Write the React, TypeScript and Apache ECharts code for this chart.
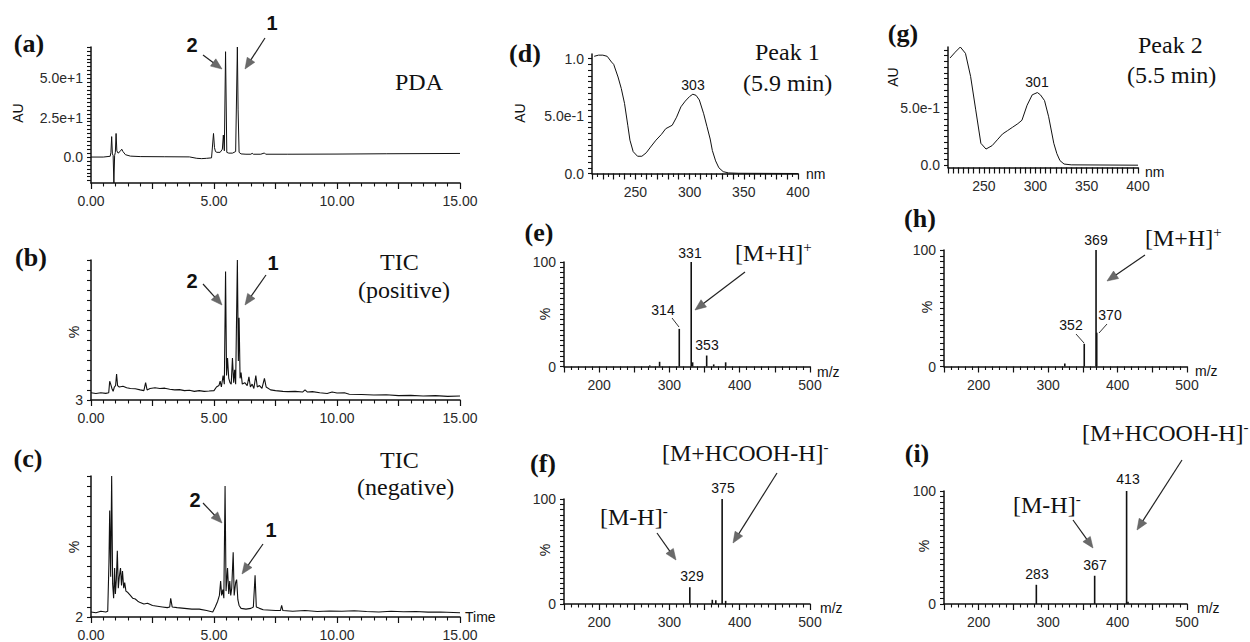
import React, { useEffect, useRef } from "react";
import * as echarts from "echarts";

// ---------- (a) PDA chromatogram ----------
const pdaTime = [0, 0.5, 0.78, 0.81, 0.84, 0.87, 0.9, 0.93, 0.96, 0.99, 1.02, 1.05, 1.1, 1.18, 1.25, 1.3, 1.4, 1.6, 2.0, 3.0, 4.0, 4.3, 4.5, 4.7, 4.9, 4.98, 5.02, 5.06, 5.12, 5.25, 5.34, 5.38, 5.42, 5.47, 5.52, 5.6, 5.75, 5.88, 5.95, 5.98, 6.02, 6.1, 6.3, 6.5, 6.55, 6.6, 6.9, 7.05, 7.1, 8, 10, 12, 15];
const pdaAU = [0, 0, 0.5, 3, 13, 2, 1, -16.5, 1, 3, 15, 4, 2.5, 3.5, 5, 3.5, 1.5, 0.6, 0.3, 0.2, 0.1, -0.8, -1, -0.8, -0.5, 15, 6, 3.5, 3, 3, 5, 14, 4, 67, 3, 2.5, 2.5, 3.5, 70, 30, 3, 2, 1.8, 1.8, 2.4, 1.8, 1.8, 2.6, 1.8, 1.8, 1.9, 2.1, 2.3];

// ---------- (b) TIC positive ----------
const ticPosTime = [0, 0.2, 0.4, 0.6, 0.72, 0.76, 0.8, 0.85, 0.9, 0.95, 1.0, 1.04, 1.08, 1.15, 1.3, 1.45, 1.6, 1.8, 2.0, 2.15, 2.22, 2.28, 2.4, 2.6, 2.8, 3.0, 3.2, 3.4, 3.6, 3.8, 4.0, 4.2, 4.4, 4.6, 4.8, 5.0, 5.1, 5.2, 5.25, 5.3, 5.37, 5.42, 5.47, 5.51, 5.55, 5.6, 5.65, 5.7, 5.75, 5.8, 5.84, 5.88, 5.95, 5.99, 6.02, 6.06, 6.1, 6.15, 6.25, 6.35, 6.42, 6.48, 6.55, 6.62, 6.7, 6.76, 6.85, 6.95, 7.05, 7.12, 7.3, 7.5, 7.8, 8.0, 8.3, 8.6, 8.7, 8.8, 9.0, 9.3, 9.6, 9.8, 10.0, 10.3, 10.5, 11, 11.5, 12, 12.5, 13, 13.5, 14, 14.5, 15];
const ticPosPct = [8, 7.5, 8, 7.6, 8, 16, 14, 11, 9, 12, 13, 21, 13, 12, 12.5, 11.5, 11, 10.8, 10, 9.5, 15, 10, 11, 11.5, 11, 11.2, 10.5, 10, 10.2, 9.5, 9.8, 9, 9.5, 9, 9.2, 9.5, 12, 13, 16, 12, 20, 14, 92, 20, 32, 18, 15, 14, 32, 15, 24, 14, 100, 30, 60, 18, 22, 14, 15, 13, 19, 12, 14, 11, 20, 12, 13, 11, 18, 12, 10, 9.5, 9, 8.8, 9, 8.5, 10, 8.5, 8.8, 8, 7.5, 8.5, 7.8, 8, 7, 6.8, 6.5, 6.6, 6, 6.2, 5.8, 6, 5.5, 5.8];

// ---------- (c) TIC negative ----------
const ticNegTime = [0, 0.2, 0.4, 0.6, 0.68, 0.73, 0.76, 0.8, 0.84, 0.88, 0.92, 0.96, 0.99, 1.03, 1.07, 1.11, 1.15, 1.2, 1.24, 1.28, 1.33, 1.37, 1.42, 1.5, 1.6, 1.7, 1.8, 1.9, 2.0, 2.15, 2.3, 2.5, 2.7, 2.9, 3.1, 3.2, 3.24, 3.3, 3.5, 3.8, 4.1, 4.4, 4.7, 4.95, 5.05, 5.15, 5.22, 5.27, 5.31, 5.36, 5.4, 5.45, 5.49, 5.55, 5.6, 5.64, 5.68, 5.72, 5.78, 5.82, 5.88, 5.92, 5.97, 6.02, 6.1, 6.3, 6.5, 6.6, 6.67, 6.72, 6.85, 7.0, 7.5, 7.7, 7.75, 7.8, 8.2, 8.7, 9.2, 9.7, 10.2, 10.7, 11.2, 11.7, 12.2, 12.7, 13.2, 13.7, 14.2, 15];
const ticNegPct = [5.5, 5, 6, 5.5, 6, 40, 76, 30, 100, 25, 15, 36, 18, 28, 48, 22, 30, 36, 24, 34, 22, 26, 20, 19, 17, 15, 14.5, 13, 12, 11, 11.5, 10, 9.5, 9, 8.5, 9, 15, 9, 8.5, 8, 7.5, 7.5, 6.5, 5.5, 9, 13, 17, 27, 17, 21, 15, 93, 20, 36, 18, 27, 17, 22, 47, 17, 26, 28, 14, 10, 8, 7.5, 8, 9, 31, 9, 8, 7, 6.5, 6.5, 10, 6.5, 6, 6.5, 5.8, 6.2, 6, 6.3, 5.8, 5.5, 6, 5.6, 5.8, 5.4, 5.5, 5];

// ---------- (d) UV spectrum, peak 1 ----------
const uvNm1 = [212, 216, 220, 224, 228, 230, 234, 237, 240, 243, 245, 248, 252, 256, 260, 264, 269, 274, 278, 284, 288, 292, 296, 300, 303, 306, 309, 313, 316, 319, 321, 324, 327, 331, 336, 345, 400];
const uvAU1 = [1.02, 1.03, 1.03, 1.02, 0.97, 0.95, 0.84, 0.74, 0.61, 0.42, 0.29, 0.19, 0.15, 0.15, 0.18, 0.23, 0.29, 0.34, 0.39, 0.42, 0.49, 0.58, 0.63, 0.67, 0.69, 0.68, 0.64, 0.52, 0.41, 0.3, 0.2, 0.11, 0.05, 0.016, 0.005, 0.002, 0];

// ---------- (g) UV spectrum, peak 2 ----------
const uvNm2 = [217, 222, 227, 232, 237, 242, 247, 252, 258, 263, 268, 273, 278, 283, 287, 292, 297, 302, 305, 309, 313, 318, 321, 324, 328, 335, 400];
const uvAU2 = [0.93, 0.98, 1.025, 0.97, 0.77, 0.48, 0.19, 0.14, 0.17, 0.22, 0.27, 0.3, 0.33, 0.36, 0.39, 0.52, 0.61, 0.63, 0.61, 0.56, 0.42, 0.19, 0.1, 0.04, 0.01, 0.003, 0];

// ---------- mass spectra ----------
const msE_mz = [272, 286, 314, 331, 333, 353, 363, 380];
const msE_int = [1, 4.5, 36, 100, 4, 10.5, 2, 4];
const msF_mz = [329, 361, 366, 375, 380];
const msF_int = [16, 4, 3.5, 100, 3];
const msH_mz = [324, 352, 369, 370];
const msH_int = [2.5, 19.5, 100, 29];
const msI_mz = [283, 367, 413, 415];
const msI_int = [17, 25, 100, 2];

// ---------- tick label values ----------
const timeLabels = [0, 5, 10, 15];
const pdaLabels = [0, 25, 50];
const uvLabels1 = [0, 0.5, 1.0];
const uvLabels2 = [0, 0.5];
const mzLabels = [200, 300, 400, 500];

const INK = "#111111";
const SERIF = '"Liberation Serif", "Times New Roman", serif';
const SANS = '"Liberation Sans", Arial, sans-serif';

function zip(xs: number[], ys: number[]) {
  return xs.map((x, i) => [x, ys[i]]);
}
function steps(a: number, b: number, n: number) {
  const out: number[] = [];
  for (let k = 0; k <= n; k++) out.push(a + ((b - a) * k) / n);
  return out;
}

const labelStyle = { fontFamily: SANS, fontSize: 14, color: "#2a2a2a" };

function xAx(min: number, max: number, interval: number, minorSplit: number, fmt: (v: number) => string) {
  return {
    type: "value",
    min,
    max,
    interval,
    axisLine: { show: true, onZero: false, lineStyle: { color: INK, width: 1.5 } },
    axisTick: { show: true, length: 6, lineStyle: { color: INK, width: 1.2 } },
    minorTick: { show: minorSplit > 0, splitNumber: minorSplit || 2, length: 3.5, lineStyle: { color: INK, width: 1.1 } },
    splitLine: { show: false },
    minorSplitLine: { show: false },
    axisLabel: { ...labelStyle, margin: 11, formatter: fmt, showMinLabel: true, showMaxLabel: true, hideOverlap: false },
  };
}

function yAx(min: number, max: number, ticks: number[], labels: number[], fmt: (v: number) => string) {
  return {
    type: "value",
    min,
    max,
    axisLine: { show: true, onZero: false, lineStyle: { color: INK, width: 1.5 } },
    axisTick: { show: true, length: 4, customValues: ticks, lineStyle: { color: INK, width: 1.1 } },
    axisLabel: { ...labelStyle, margin: 8, customValues: labels, formatter: fmt },
    splitLine: { show: false },
  };
}

const timeFmt = (v: number) => (timeLabels.indexOf(v) >= 0 ? v.toFixed(2) : "");
const mzFmt = (v: number) => (mzLabels.indexOf(v) >= 0 ? String(v) : "");
const nmFmt = (v: number) => (v % 50 === 0 ? String(v) : "");
const pdaFmt = (v: number) => (v === 0 ? "0.0" : v === 25 ? "2.5e+1" : "5.0e+1");
const uvFmt = (v: number) => (v === 0 ? "0.0" : v === 0.5 ? "5.0e-1" : "1.0");
const plainFmt = (v: number) => String(v);

const lineSeries = (data: number[][], width = 1) => ({
  type: "line",
  data,
  symbol: "none",
  silent: true,
  lineStyle: { color: INK, width },
});
const barSeries = (data: number[][]) => ({
  type: "bar",
  data,
  barWidth: 1.6,
  silent: true,
  itemStyle: { color: INK },
});

// one chart instance per panel, stacked on the same page
function panelOptions(): any[] {
  const msX = () => xAx(150, 500, 50, 5, mzFmt);
  const msY = () => yAx(0, 100, steps(0, 100, 20), [0, 100], plainFmt);
  const panels = [
    { grid: { left: 91, top: 47, width: 369, height: 136 }, x: xAx(0, 15, 2.5, 5, timeFmt), y: yAx(-16.5, 70, steps(-15, 70, 34), pdaLabels, pdaFmt), s: lineSeries(zip(pdaTime, pdaAU)) },
    { grid: { left: 91, top: 260, width: 369, height: 140 }, x: xAx(0, 15, 2.5, 5, timeFmt), y: yAx(3, 100, steps(3, 100, 14), [3], plainFmt), s: lineSeries(zip(ticPosTime, ticPosPct), 1.1) },
    { grid: { left: 91, top: 476, width: 369, height: 141 }, x: xAx(0, 15, 2.5, 5, timeFmt), y: yAx(2, 100, steps(2, 100, 14), [2], plainFmt), s: lineSeries(zip(ticNegTime, ticNegPct), 1.1) },
    { grid: { left: 592, top: 54, width: 206, height: 119.5 }, x: xAx(210, 400, 10, 2, nmFmt), y: yAx(0, 1.04, steps(0, 1, 20), uvLabels1, uvFmt), s: lineSeries(zip(uvNm1, uvAU1)) },
    { grid: { left: 948, top: 47, width: 190, height: 120.5 }, x: xAx(215, 400, 5, 0, nmFmt), y: yAx(-0.02, 1.025, steps(0, 1, 20), uvLabels2, uvFmt), s: lineSeries(zip(uvNm2, uvAU2)) },
    { grid: { left: 564, top: 262, width: 246, height: 104.5 }, x: msX(), y: msY(), s: barSeries(zip(msE_mz, msE_int)) },
    { grid: { left: 564, top: 499, width: 246, height: 105 }, x: msX(), y: msY(), s: barSeries(zip(msF_mz, msF_int)) },
    { grid: { left: 944, top: 250, width: 243, height: 116.5 }, x: msX(), y: msY(), s: barSeries(zip(msH_mz, msH_int)) },
    { grid: { left: 944, top: 491, width: 243, height: 113 }, x: msX(), y: msY(), s: barSeries(zip(msI_mz, msI_int)) },
  ];
  return panels.map((p) => ({ animation: false, grid: [p.grid], xAxis: [p.x], yAxis: [p.y], series: [p.s] }));
}

function T(x: number, y: number, text: string, font: string, align = "center", rotation = 0) {
  return {
    type: "text",
    x,
    y,
    rotation,
    silent: true,
    style: { text, font, fill: INK, textAlign: align, align, textVerticalAlign: "middle", verticalAlign: "middle" },
  };
}

function ion(x: number, y: number, main: string, sup: string) {
  return {
    type: "text",
    x,
    y,
    silent: true,
    style: {
      text: `{m|${main}}{s|${sup}}`,
      fill: INK,
      textAlign: "left",
      align: "left",
      textVerticalAlign: "middle",
      verticalAlign: "middle",
      rich: {
        m: { fontFamily: SERIF, fontSize: 24, lineHeight: 28, fill: INK },
        s: { fontFamily: SERIF, fontSize: 15, lineHeight: 14, verticalAlign: "top", fill: INK },
      },
    },
  };
}

function arrow(x1: number, y1: number, x2: number, y2: number) {
  const dx = x2 - x1;
  const dy = y2 - y1;
  const L = Math.hypot(dx, dy);
  const ux = dx / L;
  const uy = dy / L;
  const head = 11;
  const half = 4.5;
  const bx = x2 - ux * head;
  const by = y2 - uy * head;
  return [
    { type: "line", silent: true, shape: { x1, y1, x2: bx + ux * 2, y2: by + uy * 2 }, style: { stroke: "#222", lineWidth: 1.2 } },
    {
      type: "polygon",
      silent: true,
      shape: { points: [[x2, y2], [bx - uy * half, by + ux * half], [bx + uy * half, by - ux * half]] },
      style: { fill: "#6a6a6a", stroke: "#555", lineWidth: 0.5 },
    },
  ];
}

function leader(x1: number, y1: number, x2: number, y2: number) {
  return { type: "line", silent: true, shape: { x1, y1, x2, y2 }, style: { stroke: "#333", lineWidth: 1 } };
}

function buildNotes(): any {
  const bold = `bold 26px ${SERIF}`;
  const serif = `24px ${SERIF}`;
  const num = `bold 20px ${SANS}`;
  const small = `14px ${SANS}`;
  const elements: any[] = [
    T(29, 43, "(a)", bold),
    T(31, 257, "(b)", bold),
    T(28, 458, "(c)", bold),
    T(525, 53, "(d)", bold),
    T(539, 232, "(e)", bold),
    T(543, 463, "(f)", bold),
    T(903, 33, "(g)", bold),
    T(920, 218, "(h)", bold),
    T(917, 453, "(i)", bold),
    T(395, 82, "PDA", serif, "left"),
    T(380, 262, "TIC", serif, "left"),
    T(358, 290, "(positive)", serif, "left"),
    T(380, 460, "TIC", serif, "left"),
    T(357, 487, "(negative)", serif, "left"),
    T(755, 52, "Peak 1", serif, "left"),
    T(743, 83, "(5.9 min)", serif, "left"),
    T(1138, 45, "Peak 2", serif, "left"),
    T(1127, 75, "(5.5 min)", serif, "left"),
    T(192, 45, "2", num),
    T(272, 23, "1", num),
    ...arrow(203, 55, 222, 69),
    ...arrow(265, 38, 245, 69),
    T(192, 281, "2", num),
    T(273, 263, "1", num),
    ...arrow(203, 284, 222, 305),
    ...arrow(266, 275, 245, 305),
    T(195, 500, "2", num),
    T(271, 530, "1", num),
    ...arrow(203, 503, 222, 523),
    ...arrow(263, 544, 242, 574),
    T(18, 113, "AU", small, "center", Math.PI / 2),
    T(520, 113, "AU", small, "center", Math.PI / 2),
    T(893, 77, "AU", small, "center", Math.PI / 2),
    T(74, 332, "%", small, "center", Math.PI / 2),
    T(74, 547, "%", small, "center", Math.PI / 2),
    T(545, 314, "%", small, "center", Math.PI / 2),
    T(545, 550, "%", small, "center", Math.PI / 2),
    T(927, 307, "%", small, "center", Math.PI / 2),
    T(924, 546, "%", small, "center", Math.PI / 2),
    T(806, 174, "nm", small, "left"),
    T(1145, 172, "nm", small, "left"),
    T(817, 372, "m/z", small, "left"),
    T(1195, 371, "m/z", small, "left"),
    T(820, 608, "m/z", small, "left"),
    T(1197, 608, "m/z", small, "left"),
    T(465, 617, "Time", small, "left"),
    T(693, 85, "303", small),
    T(1037, 82, "301", small),
    T(690, 253, "331", small),
    T(663, 310, "314", small),
    leader(672, 318, 679, 327),
    T(707, 345, "353", small),
    ion(735, 253, "[M+H]", "+"),
    ...arrow(745, 272, 695, 310),
    T(1096, 240, "369", small),
    T(1110, 315, "370", small),
    leader(1107, 324, 1099, 333),
    T(1071, 325, "352", small),
    leader(1076, 334, 1084, 343),
    ion(1145, 238, "[M+H]", "+"),
    ...arrow(1145, 255, 1107, 281),
    T(723, 488, "375", small),
    T(692, 576, "329", small),
    ion(600, 517, "[M-H]", "-"),
    ...arrow(657, 533, 676, 560),
    ion(662, 453, "[M+HCOOH-H]", "-"),
    ...arrow(777, 473, 733, 543),
    T(1128, 479, "413", small),
    T(1095, 565, "367", small),
    T(1037, 574, "283", small),
    ion(1013, 505, "[M-H]", "-"),
    ...arrow(1073, 520, 1093, 548),
    ion(1082, 433, "[M+HCOOH-H]", "-"),
    ...arrow(1182, 460, 1137, 530),
  ];
  return { animation: false, graphic: { elements } };
}

const layer: React.CSSProperties = { position: "absolute", left: 0, top: 0, width: 1250, height: 642 };
const LAYERS = 10;

export default function App() {
  const refs = useRef<(HTMLDivElement | null)[]>([]);

  useEffect(() => {
    const opts = [...panelOptions(), buildNotes()];
    const charts = opts.map((opt, i) => {
      const el = refs.current[i];
      if (!el) return null;
      const c = echarts.init(el, undefined, { renderer: "svg" });
      c.setOption(opt);
      return c;
    });
    return () => {
      charts.forEach((c) => c && c.dispose());
    };
  }, []);

  return (
    <div style={{ position: "absolute", left: 0, top: 0, width: 1250, height: 642, background: "#fff" }}>
      {Array.from({ length: LAYERS }).map((_, i) => (
        <div
          key={i}
          ref={(el) => {
            refs.current[i] = el;
          }}
          style={layer}
        />
      ))}
    </div>
  );
}
